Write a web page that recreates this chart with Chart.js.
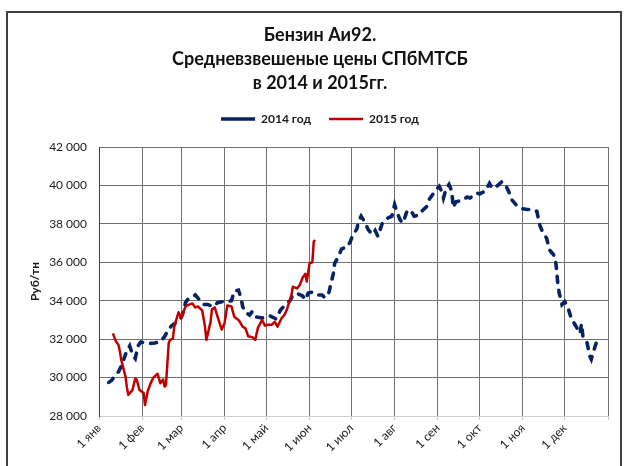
<!DOCTYPE html>
<html>
<head>
<meta charset="utf-8">
<script src="https://cdn.jsdelivr.net/npm/chart.js@4.4.0/dist/chart.umd.min.js"></script>
<style>
  html, body { margin: 0; padding: 0; background: #fff; overflow: hidden; }
  #wrap { position: relative; width: 630px; height: 466px; overflow: hidden; background: #fff; }
  #c { position: absolute; left: 0; top: 0; }
  #frame { position: absolute; left: 6px; top: 11px; width: 612px; height: 500px; border: 2px solid #3f3f3f; pointer-events: none; }
</style>
</head>
<body>
<div id="wrap">
  <canvas id="c" width="630" height="466"></canvas>
  <div id="frame"></div>
</div>
<script>
// ---- Data (day of year: 0 = 1 Jan) ----
const monthLabels = ['1 янв','1 фев','1 мар','1 апр','1 май','1 июн','1 июл','1 авг','1 сен','1 окт','1 ноя','1 дек'];
const monthStartDays = [0,31,59,90,120,151,181,212,243,273,304,334,365];

const seriesNames = ['2014 год', '2015 год'];

const days2014 = [7,9,11,14,16,18,20,22,24,26,28,30,33,37,40,44,47,49,52,55,58,60,62,64,67,69,72,75,78,82,85,88,92,95,97,100,102,103,105,108,110,113,117,120,123,127,130,133,137,139,143,146,148,150,153,156,160,162,165,166,168,169,171,174,178,180,182,185,186,188,191,193,196,198,200,203,205,207,210,212,214,216,218,221,224,226,229,232,235,237,239,242,244,246,247,249,251,253,254,256,259,261,264,266,268,271,273,274,277,280,282,286,289,292,294,296,299,303,307,310,314,316,318,321,323,327,328,329,330,332,334,336,339,341,343,345,346,347,350,352,353,355,357];
const values2014 = [29750,29850,30050,30300,30600,31000,31400,31650,31200,31000,31650,31850,31800,31780,31800,31870,32130,32400,32700,32850,33000,33300,33900,34100,34200,34300,34050,33800,33800,33700,33900,33950,33950,34000,34500,34550,34100,33700,33400,33250,33450,33150,33100,33150,33200,33050,33500,33750,34000,34300,34350,34250,34050,34400,34450,34300,34300,34150,34450,34800,35400,35950,36200,36700,36800,37050,37400,37750,38100,38400,38050,37700,37450,37650,37350,38000,38200,38300,38400,39000,38550,38200,38050,38700,38650,38400,38450,38700,38900,39300,39500,39800,39950,39650,39350,39850,40050,39700,38850,39150,39200,39250,39400,39350,39450,39600,39550,39600,39700,40100,39850,40000,40200,39950,39650,39250,39000,38800,38750,38750,38650,37950,37600,37250,36650,36300,35700,34900,34400,33800,33950,33700,33000,32800,32550,32300,32800,32150,31800,31100,30950,31450,31900];

const days2015 = [10,12,14,15,16,19,20,21,24,26,27,29,32,33,35,37,39,42,44,46,47,48,50,51,53,54,57,59,62,64,67,69,71,74,76,77,80,81,83,85,88,90,92,95,97,100,101,103,105,107,110,112,114,117,119,121,124,126,128,131,133,135,138,139,142,144,146,148,149,151,153,154,155];
const values2015 = [32300,31900,31700,31350,30900,30050,29500,29100,29350,29950,29900,29360,29200,28570,29300,29700,30000,30200,29700,29900,29530,29600,31800,31960,32040,32650,33400,33100,33700,33780,33860,33650,33700,33500,32650,31960,32900,33550,33650,33170,32500,32820,33750,33700,33170,33000,32900,32650,32560,32150,32100,31960,32600,33000,32700,32750,32750,32900,32650,33100,33260,33600,34300,34730,34640,34820,35200,35400,35000,35950,36000,37080,37160];

const yMin = 28000, yMax = 42000, yStep = 2000;

// ---- Build ----
const toPoints = (d, v) => d.map((x, i) => ({ x: x, y: v[i] }));
const fmt = v => String(v).replace(/\B(?=(\d{3})+(?!\d))/g, ' ');

Chart.defaults.font.family = 'Lato, "Liberation Sans", sans-serif';
Chart.defaults.color = '#1a1a1a';

new Chart(document.getElementById('c'), {
  type: 'line',
  data: {
    datasets: [
      {
        label: seriesNames[0],
        data: toPoints(days2014, values2014),
        borderColor: '#062463',
        backgroundColor: '#062463',
        borderWidth: 3.6,
        borderDash: [6, 8],
        borderCapStyle: 'round',
        pointRadius: 0,
        tension: 0,
        order: 1
      },
      {
        label: seriesNames[1],
        data: toPoints(days2015, values2015),
        borderColor: '#c00000',
        backgroundColor: '#c00000',
        borderWidth: 2.5,
        borderJoinStyle: 'round',
        pointRadius: 0,
        tension: 0,
        order: 0
      }
    ]
  },
  options: {
    responsive: false,
    animation: false,
    devicePixelRatio: 1,
    layout: { padding: { left: 32, right: 22, top: 0, bottom: 0 } },
    plugins: {
      tooltip: { enabled: false },
      title: {
        display: true,
        text: ['Бензин Аи92.', 'Средневзвешеные цены СПбМТСБ', 'в 2014 и 2015гг.'],
        font: { size: 18, weight: 'bold', lineHeight: 24 / 18 },
        color: '#111',
        padding: { top: 23, bottom: 0 }
      },
      subtitle: {
        display: true,
        text: '',
        weight: 500,
        font: { size: 10, lineHeight: 1 },
        padding: { top: 2, bottom: 0 }
      },
      legend: {
        position: 'top',
        labels: {
          usePointStyle: true,
          pointStyle: 'line',
          pointStyleWidth: 34,
          padding: 18,
          color: '#1a1a1a',
          font: { size: 12, weight: 'bold' },
          sort: (a, b) => a.datasetIndex - b.datasetIndex
        }
      }
    },
    scales: {
      x: {
        type: 'linear',
        min: 0,
        max: 365,
        afterBuildTicks: axis => { axis.ticks = monthStartDays.map(v => ({ value: v })); },
        afterFit: s => { s.height = 50; },
        ticks: {
          autoSkip: false,
          minRotation: 45,
          maxRotation: 45,
          padding: 1,
          font: { size: 12 },
          color: '#1a1a1a',
          callback: (v, i) => (monthLabels[i] !== undefined ? monthLabels[i] : '')
        },
        grid: { color: '#707070', tickColor: '#c8c8c8', tickLength: 4 },
        border: { color: '#d0d0d0' }
      },
      y: {
        min: yMin,
        max: yMax,
        afterFit: s => { s.width = 67; },
        ticks: {
          stepSize: yStep,
          padding: 12,
          font: { size: 12 },
          color: '#1a1a1a',
          callback: v => fmt(v)
        },
        grid: {
          drawTicks: false,
          color: ctx => (ctx.tick && ctx.tick.value === yMin ? '#d0d0d0' : '#707070')
        },
        border: { color: '#404040' },
        title: {
          display: true,
          text: 'Руб/тн',
          font: { size: 12, weight: 'bold', lineHeight: 0.5 },
          color: '#1a1a1a',
          padding: { top: 0, bottom: 0 }
        }
      }
    }
  }
});
</script>
</body>
</html>
